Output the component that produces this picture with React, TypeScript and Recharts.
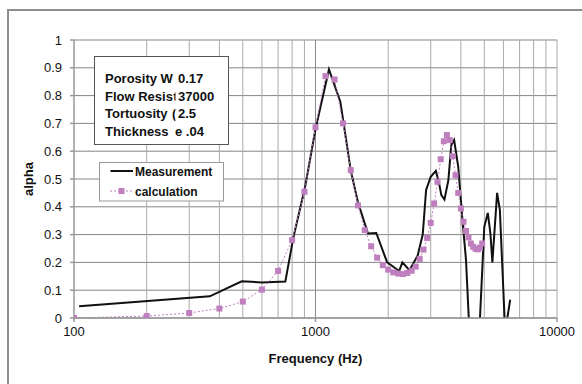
import React from 'react'
import { CartesianGrid, Line, LineChart, ReferenceLine, XAxis, YAxis } from 'recharts'

// calculated curve, 100 Hz steps
const CALC_FREQ = [
  100, 200, 300, 400, 500, 600, 700, 800, 900, 1000, 1100, 1200, 1300, 1400, 1500, 1600, 1700, 1800, 1900, 2000,
  2100, 2200, 2300, 2400, 2500, 2600, 2700, 2800, 2900, 3000, 3100, 3200, 3300, 3400, 3500, 3600, 3700, 3800, 3900,
  4000, 4100, 4200, 4300, 4400, 4500, 4600, 4700, 4800, 4900,
]
const CALC_ALPHA = [
  0, 0.007, 0.018, 0.034, 0.059, 0.102, 0.169, 0.28, 0.454, 0.686, 0.87, 0.858, 0.7, 0.532, 0.405, 0.316, 0.258, 0.217,
  0.19, 0.174, 0.164, 0.16, 0.158, 0.162, 0.17, 0.185, 0.212, 0.246, 0.288, 0.342, 0.412, 0.49, 0.571, 0.636, 0.658,
  0.64, 0.582, 0.514, 0.45, 0.394, 0.346, 0.313, 0.29, 0.268, 0.256, 0.249, 0.247, 0.253, 0.268,
]

// measured curve (dips below 0 get clipped by the axis)
const MEAS_FREQ = [
  105, 365, 495, 600, 750, 810, 905, 1000, 1137, 1267, 1400, 1500, 1650, 1785, 1980, 2220, 2290, 2450, 2650, 2780,
  2870, 3000, 3150, 3250, 3320, 3420, 3550, 3650, 3750, 3900, 4050, 4200, 4450, 4650, 5000, 5170, 5300, 5400, 5650,
  5800, 6100, 6400,
]
const MEAS_ALPHA = [
  0.042, 0.078, 0.132, 0.128, 0.131, 0.29, 0.47, 0.68, 0.894, 0.778, 0.53, 0.415, 0.304, 0.306, 0.2, 0.169, 0.2,
  0.172, 0.225, 0.3, 0.46, 0.508, 0.529, 0.484, 0.442, 0.426, 0.496, 0.622, 0.64, 0.544, 0.364, 0.208, -0.25, -0.25,
  0.328, 0.378, 0.304, 0.2, 0.45, 0.388, -0.05, 0.066,
]

const X_TICKS = [100, 1000, 10000]
const X_MINOR = [200, 300, 400, 500, 600, 700, 800, 900, 1000, 2000, 3000, 4000, 5000, 6000, 7000, 8000, 9000, 10000]
const Y_TICKS = [0, 0.1, 0.2, 0.3, 0.4, 0.5, 0.6, 0.7, 0.8, 0.9, 1]

// the text box cells are cut off by the value column, as in the spreadsheet
const PARAM_LABELS = ['Porosity W', 'Flow Resis', 'Tortuosity', 'Thickness']
const PARAM_CUT = ['', 't', '(', '']
const PARAM_VALUES = ['0.17', '37000', '2.5', 'e .04']

const calcData = CALC_FREQ.map((f, i) => ({ f, alpha: CALC_ALPHA[i] }))
const measData = MEAS_FREQ.map((f, i) => ({ f, alpha: MEAS_ALPHA[i] }))

const FONT = '"Liberation Sans", Arial, sans-serif'
const PINK = '#BF7FBF'
const tickStyle = { fontSize: 13, fill: '#111', fontFamily: FONT }
const boxText = { fontFamily: FONT, fontSize: 13, fontWeight: 'bold' as const, fill: '#111' }

function SquareDot(props: any) {
  const { cx, cy, index } = props
  if (cx == null || cy == null) return null
  return <rect key={index} x={cx - 3} y={cy - 3} width={6} height={6} fill={PINK} />
}

export default function App() {
  return (
    <div style={{ position: 'absolute', left: 0, top: 0, width: 582, height: 384, overflow: 'hidden', background: '#fff' }}>
      <LineChart width={582} height={384} margin={{ top: 40, right: 25, bottom: 0, left: 0 }} style={{ position: 'absolute', left: 0, top: 0 }}>
        <CartesianGrid vertical={false} stroke="#858585" />
        {X_MINOR.map((v) => (
          <ReferenceLine key={v} x={v} stroke={v === 1000 ? '#8a8a8a' : '#aaaaaa'} />
        ))}
        <XAxis
          dataKey="f"
          type="number"
          scale="log"
          domain={[100, 10000]}
          allowDataOverflow
          ticks={X_TICKS}
          height={66}
          tickSize={4}
          tickMargin={5}
          stroke="#999"
          strokeWidth={1.5}
          tick={tickStyle}
          label={{
            content: ({ viewBox }: any) => (
              <text
                x={viewBox.x + viewBox.width / 2}
                y={viewBox.y + 45}
                textAnchor="middle"
                fontFamily={FONT}
                fontSize={13}
                fontWeight="bold"
                fill="#111"
              >
                Frequency (Hz)
              </text>
            ),
          }}
        />
        <YAxis
          type="number"
          domain={[0, 1]}
          allowDataOverflow
          ticks={Y_TICKS}
          width={74}
          tickSize={4}
          tickMargin={8}
          stroke="#999"
          strokeWidth={1.5}
          tick={tickStyle}
          label={{
            content: ({ viewBox }: any) => {
              const x = viewBox.x + 33
              const y = viewBox.y + viewBox.height / 2
              return (
                <text
                  x={x}
                  y={y}
                  transform={`rotate(-90 ${x} ${y})`}
                  textAnchor="middle"
                  fontFamily={FONT}
                  fontSize={13}
                  fontWeight="bold"
                  fill="#111"
                >
                  alpha
                </text>
              )
            },
          }}
        />
        <Line
          data={measData}
          dataKey="alpha"
          type="linear"
          stroke="#111"
          strokeWidth={2}
          dot={false}
          isAnimationActive={false}
        />
        <Line
          data={calcData}
          dataKey="alpha"
          type="linear"
          stroke={PINK}
          strokeWidth={1}
          strokeDasharray="2 2"
          dot={<SquareDot />}
          activeDot={false}
          isAnimationActive={false}
        />
      </LineChart>

      {/* outer frame, parameter box and legend */}
      <svg width={582} height={384} style={{ position: 'absolute', left: 0, top: 0, pointerEvents: 'none' }}>
        <defs>
          <clipPath id="labelClip">
            <rect x={94} y={56} width={81.5} height={88} />
          </clipPath>
        </defs>
        <path d="M8 384 V10 H582" fill="none" stroke="#8e8e8e" strokeWidth={2} />
        <rect x={94.5} y={56.5} width={134} height={88} fill="#fff" stroke="#555" />
        {PARAM_LABELS.map((label, i) => (
          <text key={label} x={105} y={83 + i * 17.7} {...boxText}>
            {label}
          </text>
        ))}
        {PARAM_CUT.map((c, i) =>
          c ? (
            <text key={'cut' + i} x={i === 1 ? 173.3 : 172} y={83 + i * 17.7} {...boxText} clipPath="url(#labelClip)">
              {c}
            </text>
          ) : null,
        )}
        {PARAM_VALUES.map((value, i) => (
          <text key={value} x={i === 3 ? 175 : 178} y={83 + i * 17.7} {...boxText}>
            {value}
          </text>
        ))}

        <rect x={99.5} y={162.5} width={124} height={38.5} fill="#fff" stroke="#999" />
        <line x1={110.5} x2={133} y1={171} y2={171} stroke="#111" strokeWidth={2} />
        <text x={135} y={175.5} fontFamily={FONT} fontSize={12} fontWeight="bold" fill="#111">
          Measurement
        </text>
        <line x1={110} x2={133} y1={191} y2={191} stroke={PINK} strokeWidth={1} strokeDasharray="2 2" />
        <rect x={118.5} y={188} width={6} height={6} fill={PINK} />
        <text x={135} y={195.5} fontFamily={FONT} fontSize={12} fontWeight="bold" fill="#111">
          calculation
        </text>
      </svg>
    </div>
  )
}
